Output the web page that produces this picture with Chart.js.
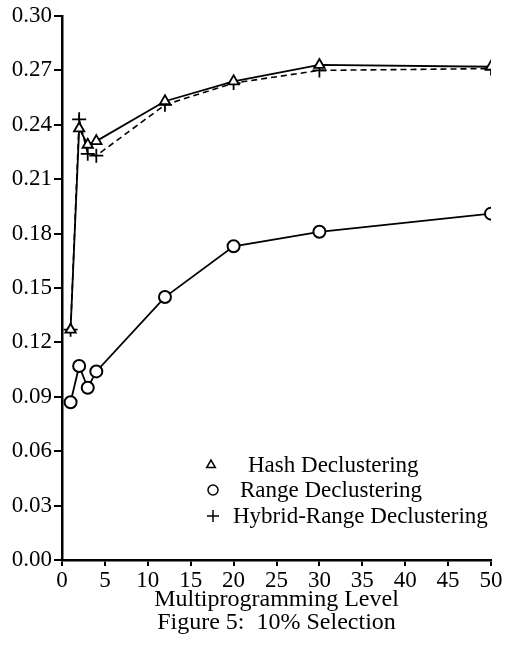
<!DOCTYPE html>
<html>
<head>
<meta charset="utf-8">
<script src="https://cdn.jsdelivr.net/npm/chart.js@4.4.1/dist/chart.umd.min.js"></script>
<style>
  html, body { margin: 0; padding: 0; background: #fff; }
  #wrap { width: 505px; height: 652px; }
</style>
</head>
<body>
<div id="wrap"><canvas id="fig5" width="505" height="652"></canvas></div>
<script>
const mpl = [1, 2, 3, 4, 12, 20, 30, 50];
const hashVals = [0.127, 0.238, 0.229, 0.231, 0.253, 0.264, 0.273, 0.272];
const rangeVals = [0.087, 0.107, 0.095, 0.104, 0.145, 0.173, 0.181, 0.191];
const hybridVals = [0.127, 0.243, 0.224, 0.223, 0.251, 0.263, 0.270, 0.271];
const xTicks = [0, 5, 10, 15, 20, 25, 30, 35, 40, 45, 50];
const yTicks = [0, 0.03, 0.06, 0.09, 0.12, 0.15, 0.18, 0.21, 0.24, 0.27, 0.30];
const legendNames = ['Hash Declustering', 'Range Declustering', 'Hybrid-Range Declustering'];

const serif = "'Liberation Serif', 'Times New Roman', serif";

function pts(vals) {
  return mpl.map((x, i) => ({ x: x, y: vals[i] }));
}

const ctx = document.getElementById('fig5').getContext('2d');

// legend drawn inside plot area, like the scanned figure
const insideLegend = {
  id: 'insideLegend',
  afterDraw(chart) {
    const c = chart.ctx;
    const rows = [
      { sym: 'triangle', r: 5, sx: 211, tx: 248, y: 465 },
      { sym: 'circle', r: 5, sx: 213, tx: 240, y: 490 },
      { sym: 'cross', r: 6, sx: 213, tx: 233, y: 516 }
    ];
    c.save();
    c.strokeStyle = '#000';
    c.lineWidth = 1.5;
    rows.forEach((r, i) => {
      c.fillStyle = '#fff';
      Chart.helpers.drawPoint(c, { pointStyle: r.sym, radius: r.r, borderWidth: 1.5 }, r.sx, r.y);
      c.fillStyle = '#000';
      c.font = '23px ' + serif;
      c.textBaseline = 'middle';
      c.fillText(legendNames[i], r.tx, r.y + 1);
    });
    c.restore();
  }
};

new Chart(ctx, {
  type: 'line',
  data: {
    datasets: [
      {
        label: legendNames[0],
        data: pts(hashVals),
        borderColor: '#000',
        backgroundColor: '#fff',
        borderWidth: 1.8,
        pointStyle: 'triangle',
        pointRadius: 6,
        pointBorderWidth: 1.8,
        tension: 0
      },
      {
        label: legendNames[1],
        data: pts(rangeVals),
        borderColor: '#000',
        backgroundColor: '#fff',
        borderWidth: 1.8,
        pointStyle: 'circle',
        pointRadius: 6,
        pointBorderWidth: 2,
        tension: 0
      },
      {
        label: legendNames[2],
        data: pts(hybridVals),
        borderColor: '#000',
        backgroundColor: '#fff',
        borderWidth: 1.6,
        borderDash: [6, 4],
        pointStyle: 'cross',
        pointRadius: 7,
        pointBorderWidth: 1.8,
        tension: 0
      }
    ]
  },
  options: {
    responsive: false,
    animation: false,
    layout: { padding: { top: 16, right: 14, left: 0, bottom: 18 } },
    plugins: {
      legend: { display: false },
      tooltip: { enabled: false }
    },
    scales: {
      x: {
        type: 'linear',
        min: 0,
        max: 50,
        afterBuildTicks: (axis) => { axis.ticks = xTicks.map(v => ({ value: v })); },
        afterFit: (axis) => { axis.height = 74; },
        border: { color: '#000', width: 2.5 },
        grid: { drawOnChartArea: false, color: '#000', lineWidth: 2, tickLength: 6 },
        ticks: { color: '#000', font: { family: serif, size: 23 }, padding: 1, maxRotation: 0 },
        title: {
          display: true,
          text: ['Multiprogramming Level', 'Figure 5:  10% Selection'],
          color: '#000',
          font: { family: serif, size: 24, lineHeight: 0.96 },
          padding: { top: 0, bottom: 0 }
        }
      },
      y: {
        min: 0,
        max: 0.30,
        afterBuildTicks: (axis) => { axis.ticks = yTicks.map(v => ({ value: v })); },
        afterFit: (axis) => { axis.width = 62; },
        border: { color: '#000', width: 2.5 },
        grid: { drawOnChartArea: false, color: '#000', lineWidth: 2, tickLength: 8 },
        ticks: {
          color: '#000',
          font: { family: serif, size: 23 },
          padding: 2,
          callback: (v) => v.toFixed(2)
        }
      }
    }
  },
  plugins: [insideLegend]
});
</script>
</body>
</html>
